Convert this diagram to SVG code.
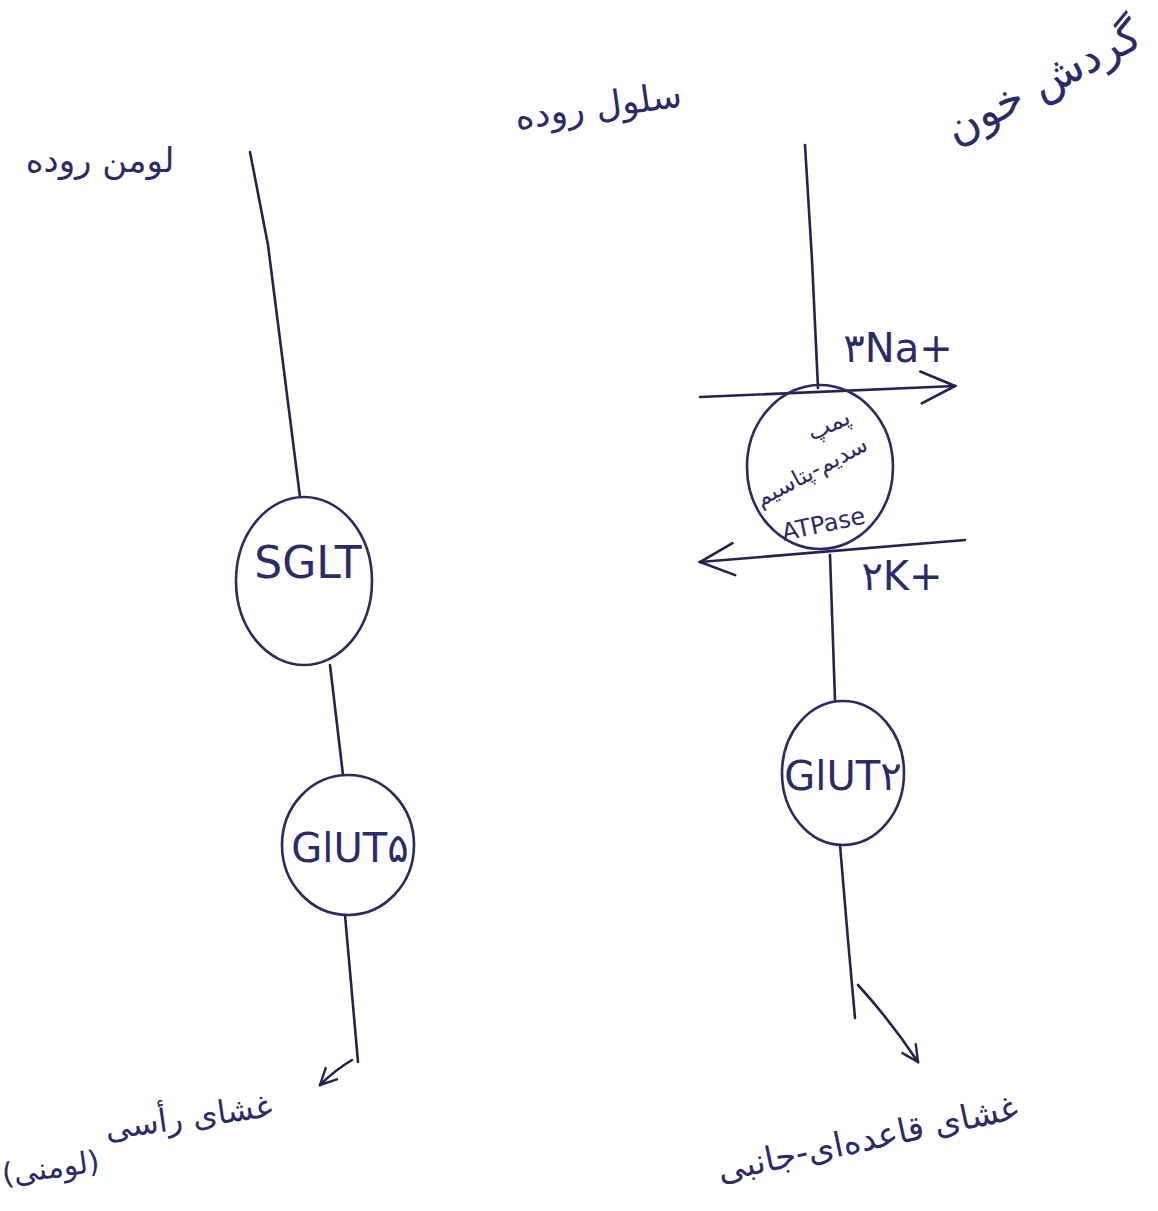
<svg xmlns="http://www.w3.org/2000/svg" width="1158" height="1211" viewBox="0 0 1158 1211">
  <defs>
    <style>
      .ink { fill: none; stroke: #23234f; stroke-width: 2.6; stroke-linecap: round; stroke-linejoin: round; }
      .node { fill: none; stroke: #2b2b62; stroke-width: 2.6; }
      .fa { font-family: "DejaVu Sans", "Noto Sans", sans-serif; fill: #2b2b66; }
      .lat { font-family: "DejaVu Sans", "Liberation Sans", sans-serif; fill: #2b2b66; }
    </style>
    <marker id="head" viewBox="0 0 20 20" refX="18" refY="10" markerWidth="20" markerHeight="20" markerUnits="userSpaceOnUse" orient="auto">
      <path d="M2,2 L18,10 L2,18" fill="none" stroke="#23234f" stroke-width="2.4" stroke-linecap="round"/>
    </marker>
    <marker id="headBig" viewBox="0 0 40 40" refX="38" refY="20" markerWidth="40" markerHeight="40" markerUnits="userSpaceOnUse" orient="auto">
      <path d="M4,4 L38,20 L4,36" fill="none" stroke="#23234f" stroke-width="2.6" stroke-linecap="round"/>
    </marker>
  </defs>

  <rect width="1158" height="1211" fill="#ffffff"/>

  <!-- region labels -->
  <g id="label-blood">
    <text class="fa" x="1050" y="95" font-size="44" text-anchor="middle" transform="rotate(-28 1050 95)">گردش خون</text>
  </g>
  <g id="label-cell">
    <text class="fa" x="600" y="118" font-size="36" text-anchor="middle" transform="rotate(-8 600 118)">سلول روده</text>
  </g>
  <g id="label-lumen">
    <text class="fa" x="100" y="172" font-size="34" text-anchor="middle">لومن روده</text>
  </g>

  <!-- membranes and ion arrows -->
  <g id="connectors">
    <!-- apical membrane -->
    <path class="ink" d="M250,152 L268,245 L300,497"/>
    <path class="ink" d="M330,665 L343,775"/>
    <path class="ink" d="M345,915 L358,1062"/>
    <path class="ink" d="M352,1060 Q335,1070 320,1085" marker-end="url(#head)"/>
    <!-- basolateral membrane -->
    <path class="ink" d="M805,145 L812,260 L818,388"/>
    <path class="ink" d="M830,555 L835,700"/>
    <path class="ink" d="M840,845 L848,940 L855,1018"/>
    <path class="ink" d="M858,985 Q890,1020 918,1062" marker-end="url(#head)"/>
    <!-- 3 Na+ out -->
    <path class="ink" d="M700,397 L955,386" marker-end="url(#headBig)"/>
    <!-- 2 K+ in -->
    <path class="ink" d="M965,540 L700,562" marker-end="url(#headBig)"/>
  </g>

  <g id="label-na">
    <text class="lat" x="898" y="362" font-size="40" text-anchor="middle">۳Na+</text>
  </g>
  <g id="label-k">
    <text class="lat" x="902" y="590" font-size="40" text-anchor="middle">۲K+</text>
  </g>

  <!-- transporters -->
  <g id="sglt">
    <ellipse class="node" cx="304" cy="581" rx="68" ry="84"/>
    <text class="lat" x="308" y="578" font-size="44" text-anchor="middle">SGLT</text>
  </g>
  <g id="glut5">
    <ellipse class="node" cx="348" cy="845" rx="66" ry="70"/>
    <text class="lat" x="350" y="862" font-size="40" text-anchor="middle">GlUT۵</text>
  </g>
  <g id="pump">
    <ellipse class="node" cx="820" cy="467" rx="73" ry="82"/>
    <text class="fa" x="832" y="432" font-size="24" text-anchor="middle" transform="rotate(-25 832 432)">پمپ</text>
    <text class="fa" x="815" y="478" font-size="23" text-anchor="middle" transform="rotate(-28 815 478)">سدیم-پتاسیم</text>
    <text class="lat" x="825" y="532" font-size="24" text-anchor="middle" transform="rotate(-12 825 532)">ATPase</text>
  </g>
  <g id="glut2">
    <ellipse class="node" cx="843" cy="773" rx="61" ry="72"/>
    <text class="lat" x="843" y="790" font-size="40" text-anchor="middle">GlUT۲</text>
  </g>

  <!-- membrane names -->
  <g id="label-apical">
    <text class="fa" x="190" y="1128" font-size="32" text-anchor="middle" direction="rtl" transform="rotate(-8 190 1128)">غشای رأسی</text>
    <text class="fa" x="52" y="1178" font-size="30" text-anchor="middle" direction="rtl" transform="rotate(-8 52 1178)">(لومنی)</text>
  </g>
  <g id="label-basolateral">
    <text class="fa" x="870" y="1150" font-size="34" text-anchor="middle" direction="rtl" transform="rotate(-12 870 1150)">غشای قاعده‌ای-جانبی</text>
  </g>
</svg>
